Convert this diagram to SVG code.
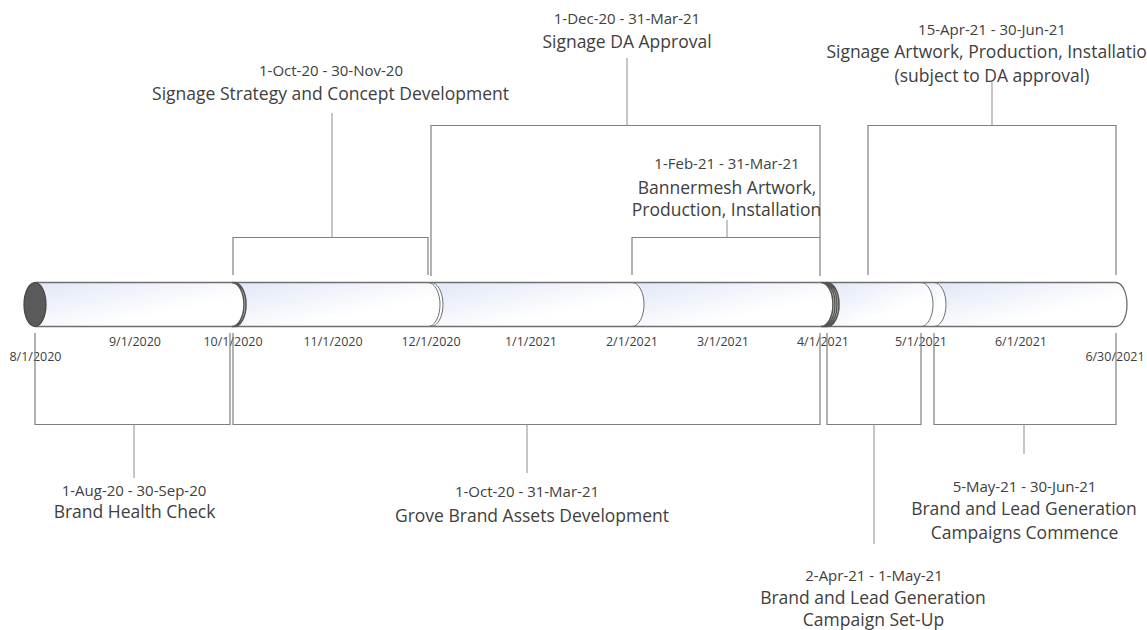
<svg xmlns="http://www.w3.org/2000/svg" width="1147" height="630" viewBox="0 0 1147 630">
<defs>
<linearGradient id="seg" x1="0" y1="0" x2="1" y2="1">
<stop offset="0" stop-color="#e1e7f6"/>
<stop offset="0.65" stop-color="#ffffff"/>
<stop offset="1" stop-color="#ffffff"/>
</linearGradient>
<style>
.t{font-family:"Open Sans","Noto Sans",sans-serif;fill:#404040;text-anchor:middle}
.ti{font-size:17.5px}
.dt{font-size:15px}
.ax{font-size:12.5px}
.br{fill:none;stroke:#7f7f7f;stroke-width:1.2}
.ld{fill:none;stroke:#a0a0a0;stroke-width:1.2}
.sg{fill:url(#seg);stroke:none}
.ol{fill:none;stroke:#6f6f6f;stroke-width:1.3}
.jt{fill:none;stroke:#6f6f6f;stroke-width:1}
.jd{fill:none;stroke:#555555;stroke-width:1.6}
</style>
</defs>
<rect width="1147" height="630" fill="#ffffff"/>

<g id="timeline-bar">
<path class="sg" d="M35,282.5 H233 A12 22 0 0 1 233,326.5 H35 Z"/>
<path class="sg" d="M233,282.5 H431 A12 22 0 0 1 431,326.5 H233 A12 22 0 0 0 233,282.5 Z"/>
<path class="sg" d="M431,282.5 H632 A12 22 0 0 1 632,326.5 H431 A12 22 0 0 0 431,282.5 Z"/>
<path class="sg" d="M632,282.5 H824 A12 22 0 0 1 824,326.5 H632 A12 22 0 0 0 632,282.5 Z"/>
<path class="sg" d="M824,282.5 H921 A12 22 0 0 1 921,326.5 H824 A12 22 0 0 0 824,282.5 Z"/>
<path class="sg" d="M921,282.5 H934 A12 22 0 0 1 934,326.5 H921 A12 22 0 0 0 921,282.5 Z"/>
<path class="sg" d="M934,282.5 H1116 A11 22 0 0 1 1116,326.5 H934 A12 22 0 0 0 934,282.5 Z"/>
<path class="ol" d="M35,282.5 H1116 A11 22 0 0 1 1116,326.5 H35"/>
<path class="jd" d="M232,282.5 A12 22 0 0 1 232,326.5 M234,282.5 A12 22 0 0 1 234,326.5"/>
<path class="jt" d="M428,282.5 A12 22 0 0 1 428,326.5 M431,282.5 A12 22 0 0 1 431,326.5"/>
<path class="jt" d="M632,282.5 A12 22 0 0 1 632,326.5"/>
<path class="jd" d="M821,282.5 A12 22 0 0 1 821,326.5 M823,282.5 A12 22 0 0 1 823,326.5 M825,282.5 A12 22 0 0 1 825,326.5 M827,282.5 A12 22 0 0 1 827,326.5"/>
<path class="jt" d="M921,282.5 A12 22 0 0 1 921,326.5 M934,282.5 A12 22 0 0 1 934,326.5"/>
<ellipse cx="35" cy="304.5" rx="11" ry="22" fill="#5a5a5a" stroke="#444444" stroke-width="1.2"/>
</g>

<g id="axis-labels" class="t ax">
<text x="35.5" y="360.5">8/1/2020</text>
<text x="135" y="346">9/1/2020</text>
<text x="233" y="346">10/1/2020</text>
<text x="333" y="346">11/1/2020</text>
<text x="431" y="346">12/1/2020</text>
<text x="531" y="346">1/1/2021</text>
<text x="632" y="346">2/1/2021</text>
<text x="723" y="346">3/1/2021</text>
<text x="823" y="346">4/1/2021</text>
<text x="921" y="346">5/1/2021</text>
<text x="1021" y="346">6/1/2021</text>
<text x="1115" y="360.5">6/30/2021</text>
</g>

<g id="connectors">
<path class="br" d="M233,275 V237.5 H428 V275"/>
<path class="ld" d="M332,237.5 V113"/>
<path class="br" d="M431,276 V125.5 H820 V276"/>
<path class="ld" d="M627,125.5 V58"/>
<path class="br" d="M632,275 V237.5 H820"/>
<path class="ld" d="M727,237.5 V220"/>
<path class="br" d="M868,275 V125.5 H1116 V275"/>
<path class="ld" d="M992,125.5 V82"/>
<path class="br" d="M35,333 V424.5 H230 V333"/>
<path class="ld" d="M134,424.5 V478"/>
<path class="br" d="M233,333 V424.5 H820 V333"/>
<path class="ld" d="M527,424.5 V473"/>
<path class="br" d="M827,333 V424.5 H921 V333"/>
<path class="ld" d="M874,424.5 V544"/>
<path class="br" d="M934,333 V424.5 H1116 V333"/>
<path class="ld" d="M1024,424.5 V454"/>
</g>

<g id="signage-da-approval" class="t">
<text class="dt" x="627" y="23.5">1-Dec-20 - 31-Mar-21</text>
<text class="ti" x="627" y="48">Signage DA Approval</text>
</g>
<g id="signage-artwork" class="t">
<text class="dt" x="992" y="34.5">15-Apr-21 - 30-Jun-21</text>
<text class="ti" x="992" y="58">Signage Artwork, Production, Installation</text>
<text class="ti" x="992" y="82">(subject to DA approval)</text>
</g>
<g id="signage-strategy" class="t">
<text class="dt" x="331" y="75.5">1-Oct-20 - 30-Nov-20</text>
<text class="ti" x="330.5" y="100">Signage Strategy and Concept Development</text>
</g>
<g id="bannermesh" class="t">
<text class="dt" x="727" y="168.5">1-Feb-21 - 31-Mar-21</text>
<text class="ti" x="727" y="194">Bannermesh Artwork,</text>
<text class="ti" x="726.5" y="216">Production, Installation</text>
</g>
<g id="brand-health-check" class="t">
<text class="dt" x="134" y="495.5">1-Aug-20 - 30-Sep-20</text>
<text class="ti" x="134.5" y="518">Brand Health Check</text>
</g>
<g id="grove-brand-assets" class="t">
<text class="dt" x="527" y="496.5">1-Oct-20 - 31-Mar-21</text>
<text class="ti" x="532" y="522">Grove Brand Assets Development</text>
</g>
<g id="campaign-set-up" class="t">
<text class="dt" x="874" y="580.5">2-Apr-21 - 1-May-21</text>
<text class="ti" x="873" y="604">Brand and Lead Generation</text>
<text class="ti" x="873.5" y="626">Campaign Set-Up</text>
</g>
<g id="campaigns-commence" class="t">
<text class="dt" x="1024.5" y="491.5">5-May-21 - 30-Jun-21</text>
<text class="ti" x="1024" y="515">Brand and Lead Generation</text>
<text class="ti" x="1024.5" y="539">Campaigns Commence</text>
</g>
</svg>
